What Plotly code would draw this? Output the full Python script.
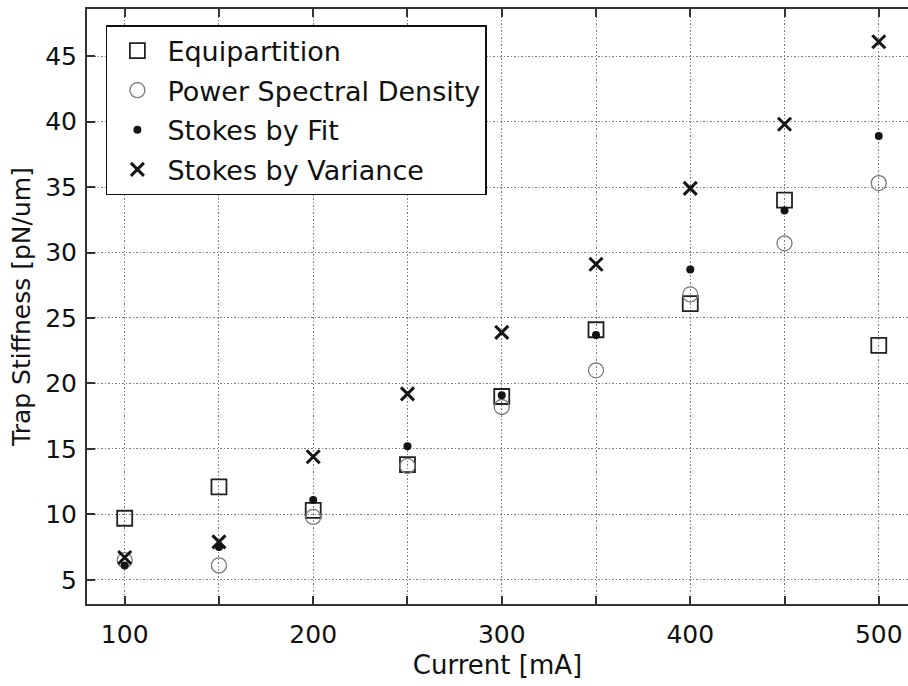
import plotly.graph_objects as go

# Laser current settings [mA]
current = [100, 150, 200, 250, 300, 350, 400, 450, 500]

# Trap stiffness estimates [pN/um] for each calibration method
equipartition = [9.7, 12.1, 10.3, 13.8, 19.0, 24.1, 26.1, 34.0, 22.9]
psd = [6.5, 6.1, 9.8, 13.7, 18.2, 21.0, 26.8, 30.7, 35.3]
stokes_fit = [6.1, 7.5, 11.1, 15.2, 19.1, 23.7, 28.7, 33.2, 38.9]
stokes_var = [6.7, 7.9, 14.4, 19.2, 23.9, 29.1, 34.9, 39.8, 46.1]

x_ticks = [100, 150, 200, 250, 300, 350, 400, 450, 500]
x_ticktext = ["100", "", "200", "", "300", "", "400", "", "500"]
y_ticks = [5, 10, 15, 20, 25, 30, 35, 40, 45]

FONT = "DejaVu Sans"
INK = "#111111"

fig = go.Figure()

series = [
    ("Equipartition", equipartition,
     dict(symbol="square-open", size=15, color="#222222", line=dict(width=1.8, color="#222222"))),
    ("Power Spectral Density", psd,
     dict(symbol="circle-open", size=15, color="#777777", line=dict(width=1.3, color="#777777"))),
    ("Stokes by Fit", stokes_fit,
     dict(symbol="circle", size=8, color="#151515", line=dict(width=0))),
    ("Stokes by Variance", stokes_var,
     dict(symbol="x-thin", size=13, color="#151515", line=dict(width=3, color="#151515"))),
]

for i, (name, vals, marker) in enumerate(series):
    fig.add_trace(go.Scatter(
        x=current, y=vals, mode="markers", name=name,
        marker=marker, legendgroup=f"g{i}",
    ))

axis_common = dict(
    showgrid=True, gridcolor="#7a7a7a", gridwidth=1, griddash="1.5px,2px",
    zeroline=False, showline=True, linecolor="#333333", linewidth=2,
    ticks="inside", ticklen=8, tickwidth=1.5, tickcolor="#333333",
    tickfont=dict(family=FONT, size=25, color=INK),
)

fig.update_xaxes(
    range=[80, 515.5], tickmode="array", tickvals=x_ticks, ticktext=x_ticktext,
    mirror="ticks", ticklabelstandoff=7,
    title=dict(text="Current [mA]", font=dict(family=FONT, size=26, color=INK), standoff=8),
    **axis_common,
)
fig.update_yaxes(
    range=[3.15, 48.6], tickmode="array", tickvals=y_ticks,
    ticklabelstandoff=3,
    title=dict(text="Trap Stiffness [pN/um]", font=dict(family=FONT, size=25, color=INK), standoff=7),
    **axis_common,
)

fig.update_layout(
    width=908, height=686,
    margin=dict(l=87, r=0, t=9, b=82),
    paper_bgcolor="white", plot_bgcolor="white",
    font=dict(family=FONT, color=INK),
    showlegend=True,
    legend=dict(
        x=0.023, y=0.973, xanchor="left", yanchor="top",
        bgcolor="white", bordercolor="#111111", borderwidth=1.5,
        font=dict(family=FONT, size=27, color=INK),
        traceorder="grouped", tracegroupgap=1.5, itemwidth=50,
    ),
)

fig.write_html("out.html")
